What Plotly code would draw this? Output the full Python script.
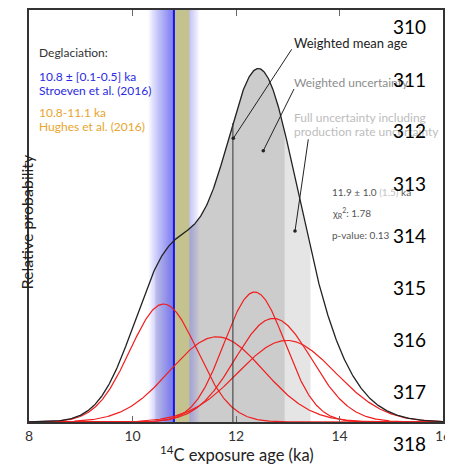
import numpy as np
import plotly.graph_objects as go

# ---------------- data ----------------
sample_ages = [10.60, 11.63, 12.36, 12.72, 12.98]     # ka
sample_errors = [0.65, 0.90, 0.59, 0.74, 0.94]        # ka (1 sigma)
weighted_mean = 11.94
weighted_unc = 1.0
full_unc = 1.5
stroeven_age = 10.8
stroeven_unc = [0.1, 0.5]
hughes_range = [10.8, 11.1]
x_ticks = [8, 10, 12, 14, 16]
line_numbers = ["310", "311", "312", "313", "314", "315", "316", "317", "318"]

# ---------------- geometry (page body has an 8px margin) ----------------
OFF = 8
W, H = 453 - OFF, 467 - OFF
PL, PR, PT, PB = 29, 443, 10, 422          # plot box in page pixels
ML, MR, MT, MB = PL - OFF, OFF + W - PR, PT - OFF, OFF + H - PB
PW, PH = PR - PL, PB - PT
YMAX = 2.143
FONT = "Lato"


def px(x):
    return (x - PL) / PW


def py(y):
    return (PB - y) / PH


def dx(p):
    return 8 + (p - PL) / (PW / 8)


def dy(p):
    return (PB - p) / PH * YMAX


x = np.round(np.linspace(8, 16, 801), 4)


def pdf(m, s):
    return np.exp(-0.5 * ((x - m) / s) ** 2) / (s * np.sqrt(2 * np.pi))


curves = [pdf(m, s) for m, s in zip(sample_ages, sample_errors)]
summed = np.sum(curves, axis=0)

fig = go.Figure()

# uncertainty fills
for half, col in [(full_unc, "rgb(229,229,229)"), (weighted_unc, "rgb(204,204,204)")]:
    lo, hi = round(weighted_mean - half, 4), round(weighted_mean + half, 4)
    m = (x >= lo - 1e-9) & (x <= hi + 1e-9)
    fig.add_trace(go.Scatter(x=x[m], y=summed[m], mode="lines", line=dict(width=0),
                             fill="tozeroy", fillcolor=col, hoverinfo="skip", showlegend=False))

# Stroeven band (gradient)
edges = np.round(np.arange(stroeven_age - stroeven_unc[1], stroeven_age + stroeven_unc[1] + 1e-9, 0.02), 4)
for a, b in zip(edges[:-1], edges[1:]):
    d = abs((a + b) / 2 - stroeven_age)
    inten = 1.0 if d <= stroeven_unc[0] else max(0.0, (stroeven_unc[1] - d) / (stroeven_unc[1] - stroeven_unc[0]))
    fig.add_trace(go.Scatter(x=[a, a, b, b, a], y=[0, YMAX, YMAX, 0, 0], mode="lines",
                             line=dict(width=0), fill="toself",
                             fillcolor=f"rgba(80,80,240,{0.75 * inten:.3f})",
                             hoverinfo="skip", showlegend=False))

# Hughes band
a, b = hughes_range
fig.add_trace(go.Scatter(x=[a, a, b, b, a], y=[0, YMAX, YMAX, 0, 0], mode="lines",
                         line=dict(width=0), fill="toself", fillcolor="rgb(196,194,142)",
                         hoverinfo="skip", showlegend=False))

# Stroeven line
fig.add_trace(go.Scatter(x=[stroeven_age, stroeven_age], y=[0, YMAX], mode="lines",
                         line=dict(color="rgb(20,20,235)", width=2), hoverinfo="skip", showlegend=False))

# individual samples
for c in curves:
    fig.add_trace(go.Scatter(x=x, y=c, mode="lines", line=dict(color="rgb(240,30,30)", width=1.2),
                             showlegend=False))

# summed
fig.add_trace(go.Scatter(x=x, y=summed, mode="lines", line=dict(color="#222", width=1.3), showlegend=False))

# mean line
fig.add_trace(go.Scatter(x=[weighted_mean, weighted_mean], y=[0, float(np.interp(weighted_mean, x, summed))],
                         mode="lines", line=dict(color="#333", width=1), showlegend=False))

ann = []
shapes = []


def txt(t, xp, yp, size, color, anchor="left", yanchor="middle"):
    ann.append(dict(text=t, x=px(xp), y=py(yp), xref="paper", yref="paper", showarrow=False,
                    xanchor=anchor, yanchor=yanchor, font=dict(family=FONT, size=size, color=color)))


txt("Deglaciation:", 37, 53, 12, "#333")
txt("10.8 ± [0.1-0.5] ka", 37, 76, 12, "#2a2ae0")
txt("Stroeven et al. (2016)", 37, 90, 12, "#2a2ae0")
txt("10.8-11.1 ka", 37, 112, 12, "#e8a530")
txt("Hughes et al. (2016)", 37, 126, 12, "#e8a530")
txt("Weighted mean age", 292, 43, 13, "#222")
txt("Weighted uncertainty", 292, 82, 12, "#8c8c8c")
txt("Full uncertainty including", 292, 117, 12, "#bdbdbd")
txt("production rate uncertainty", 292, 132, 12, "#bdbdbd")
txt("11.9 ± 1.0 <span style='color:#c4c4c4'>(1.5)</span> ka", 330, 192, 10, "#555")
txt("χ<sub>R</sub><sup>2</sup>: 1.78", 330, 213, 10, "#555")
txt("p-value: 0.13", 330, 235, 10, "#555")


# leader lines with dot ends
def leader(x0, y0, x1, y1):
    shapes.append(dict(type="line", xref="x", yref="y", x0=dx(x0), y0=dy(y0), x1=dx(x1), y1=dy(y1),
                       line=dict(color="#222", width=1)))
    shapes.append(dict(type="circle", xref="x", yref="y", xsizemode="pixel", ysizemode="pixel",
                       xanchor=dx(x1), yanchor=dy(y1), x0=-1.8, x1=1.8, y0=-1.8, y1=1.8,
                       fillcolor="#222", line=dict(width=0)))


leader(291.7, 49.3, 233.3, 138.3)
leader(294, 89, 263.3, 150.7)
leader(308.3, 139.3, 295, 231)

# axis titles
ann.append(dict(text="Relative probability", x=px(14), y=py(222), xref="paper", yref="paper",
                showarrow=False, textangle=-90, font=dict(family=FONT, size=16, color="#222")))
txt("<sup>14</sup>C exposure age (ka)", 237, 441, 16.5, "#222", anchor="center", yanchor="top")

# line numbers
for i, n in enumerate(line_numbers):
    txt(n, 409, 27 + 52 * i, 19, "#000", anchor="center")

fig.update_layout(
    width=W, height=H, margin=dict(l=ML, r=MR, t=MT, b=MB, autoexpand=False),
    paper_bgcolor="white", plot_bgcolor="white", annotations=ann, shapes=shapes,
    xaxis=dict(range=[8, 16], tickvals=x_ticks, ticks="inside", ticklen=6, tickcolor="#666",
               showline=True, linecolor="#333", linewidth=1.5, mirror="ticks", showgrid=False,
               zeroline=False, tickfont=dict(family=FONT, size=14, color="#333")),
    yaxis=dict(range=[0, YMAX], showticklabels=False, ticks="", showline=True, linecolor="#333",
               linewidth=1.5, mirror=True, showgrid=False, zeroline=False),
    showlegend=False,
)

fig.write_html("out.html")
